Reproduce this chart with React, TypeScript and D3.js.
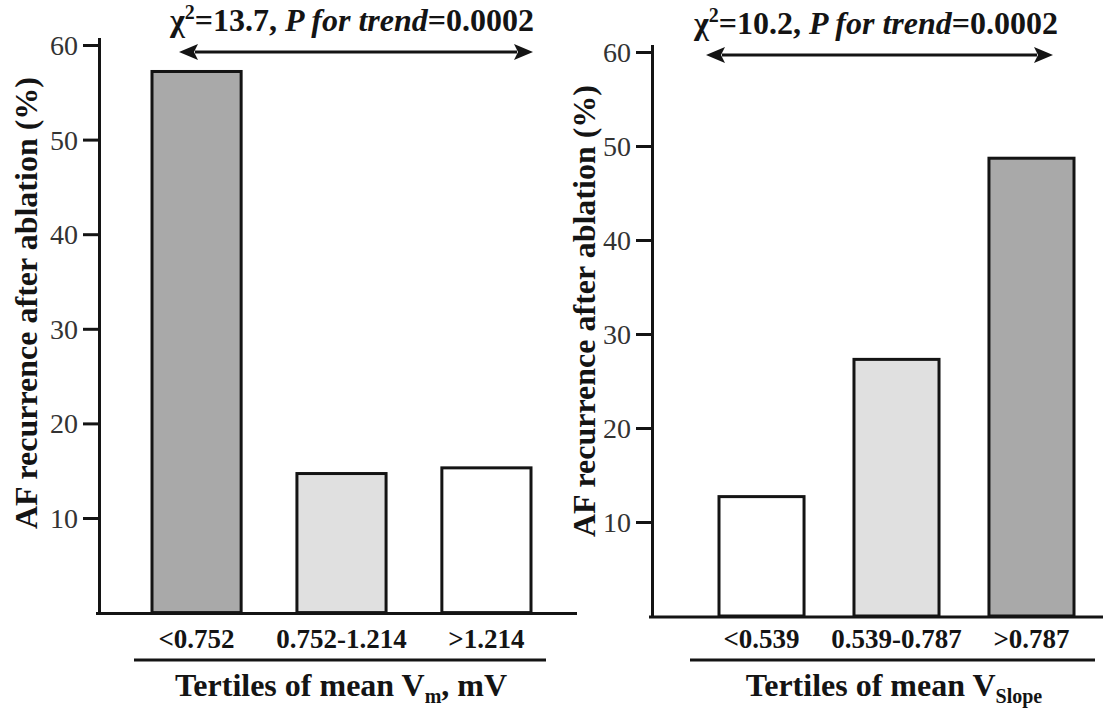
import React, { useEffect, useRef } from "react";
import * as d3 from "d3";

// Tertile categories and AF recurrence rates (%)
const vmCategories = ["<0.752", "0.752-1.214", ">1.214"];
const vmValues = [57.2, 14.7, 15.3];
const vmFills = ["#a9a9a9", "#e0e0e0", "#ffffff"];

const slopeCategories = ["<0.539", "0.539-0.787", ">0.787"];
const slopeValues = [12.7, 27.3, 48.7];
const slopeFills = ["#ffffff", "#e0e0e0", "#a9a9a9"];

const yTicks = [10, 20, 30, 40, 50, 60];
const yLabel = "AF recurrence after ablation (%)";

const chiValues = ["13.7", "10.2"];
const pValues = ["0.0002", "0.0002"];

const SERIF = "'Liberation Serif', 'Times New Roman', Times, serif";
const INK = "#141414";

type Panel = {
  categories: string[];
  values: number[];
  fills: string[];
  chi: string;
  p: string;
  axisX: number;
  y0: number;
  y10: number;
  y60: number;
  barRange: [number, number];
  padInner: number;
  baselineEnd: number;
  yLabelX: number;
  yLabelY: number;
  titleX: number;
  titleY: number;
  arrow: [number, number, number];
  underline: [number, number, number];
  xTitleX: number;
  xTitleY: number;
  xSub: string;
  xTail: string;
};

const panels: Panel[] = [
  {
    categories: vmCategories,
    values: vmValues,
    fills: vmFills,
    chi: chiValues[0],
    p: pValues[0],
    axisX: 99,
    y0: 612.6,
    y10: 518,
    y60: 45,
    barRange: [152, 531],
    padInner: 0.385,
    baselineEnd: 577,
    yLabelX: 37,
    yLabelY: 303,
    titleX: 352,
    titleY: 31,
    arrow: [179, 533, 52],
    underline: [134, 546, 660],
    xTitleX: 341,
    xTitleY: 696,
    xSub: "m",
    xTail: ", mV",
  },
  {
    categories: slopeCategories,
    values: slopeValues,
    fills: slopeFills,
    chi: chiValues[1],
    p: pValues[1],
    axisX: 652,
    y0: 616,
    y10: 522,
    y60: 52,
    barRange: [719, 1074],
    padInner: 0.37,
    baselineEnd: 1103,
    yLabelX: 595,
    yLabelY: 311,
    titleX: 876,
    titleY: 34,
    arrow: [706, 1053, 55],
    underline: [690, 1095, 660],
    xTitleX: 894,
    xTitleY: 696,
    xSub: "Slope",
    xTail: "",
  },
];

function drawPanel(svg: d3.Selection<SVGSVGElement, unknown, null, undefined>, p: Panel) {
  const unit = (p.y10 - p.y60) / 50;
  const y = d3
    .scaleLinear()
    .domain([0, 60.8])
    .range([p.y0, p.y0 - unit * 60.8]);
  const x = d3
    .scaleBand<string>()
    .domain(p.categories)
    .range(p.barRange)
    .paddingInner(p.padInner)
    .paddingOuter(0);

  const g = svg.append("g");

  // bars
  g.selectAll("rect.bar")
    .data(p.values)
    .join("rect")
    .attr("class", "bar")
    .attr("x", (_, i) => x(p.categories[i])!)
    .attr("width", x.bandwidth())
    .attr("y", (d) => y(d))
    .attr("height", (d) => y(0) - y(d))
    .attr("fill", (_, i) => p.fills[i])
    .attr("stroke", INK)
    .attr("stroke-width", 3);

  // y axis
  const axis = d3
    .axisLeft(y)
    .tickValues(yTicks)
    .tickSize(16)
    .tickSizeOuter(0)
    .tickPadding(5)
    .tickFormat((d) => String(d));
  const ag = g.append("g").attr("transform", `translate(${p.axisX},0)`).call(axis);
  ag.select(".domain").attr("stroke", INK).attr("stroke-width", 3);
  ag.selectAll(".tick line").attr("stroke", INK).attr("stroke-width", 3);
  ag.selectAll(".tick text")
    .attr("font-family", SERIF)
    .attr("font-size", 28)
    .attr("fill", "#333333")
    .attr("dy", "0.34em");

  // baseline
  g.append("line")
    .attr("x1", p.axisX - 3)
    .attr("x2", p.baselineEnd)
    .attr("y1", y(0) + 1)
    .attr("y2", y(0) + 1)
    .attr("stroke", INK)
    .attr("stroke-width", 3);

  // category labels
  g.selectAll("text.cat")
    .data(p.categories)
    .join("text")
    .attr("class", "cat")
    .attr("x", (d) => x(d)! + x.bandwidth() / 2)
    .attr("y", 648)
    .attr("text-anchor", "middle")
    .attr("font-family", SERIF)
    .attr("font-weight", "bold")
    .attr("font-size", 27)
    .attr("fill", INK)
    .text((d) => d);

  // y axis title
  g.append("text")
    .attr("transform", `translate(${p.yLabelX},${p.yLabelY}) rotate(-90)`)
    .attr("text-anchor", "middle")
    .attr("font-family", SERIF)
    .attr("font-weight", "bold")
    .attr("font-size", 32)
    .attr("fill", INK)
    .text(yLabel);

  // trend statistic
  const t = g
    .append("text")
    .attr("x", p.titleX)
    .attr("y", p.titleY)
    .attr("text-anchor", "middle")
    .attr("font-family", SERIF)
    .attr("font-weight", "bold")
    .attr("font-size", 32)
    .attr("fill", INK);
  t.append("tspan").text("χ");
  t.append("tspan").attr("font-size", 20).attr("dy", -12).text("2");
  t.append("tspan").attr("dy", 12).text(`=${p.chi}, `);
  t.append("tspan").attr("font-style", "italic").text("P for trend");
  t.append("tspan").text(`=${p.p}`);

  // double-headed arrow
  const [ax1, ax2, ay] = p.arrow;
  const head = 19;
  const half = 8;
  g.append("line")
    .attr("x1", ax1 + head - 3)
    .attr("x2", ax2 - head + 3)
    .attr("y1", ay)
    .attr("y2", ay)
    .attr("stroke", INK)
    .attr("stroke-width", 3);
  g.append("path")
    .attr("d", `M${ax1},${ay} L${ax1 + head},${ay - half} L${ax1 + head - 4},${ay} L${ax1 + head},${ay + half} Z`)
    .attr("fill", INK);
  g.append("path")
    .attr("d", `M${ax2},${ay} L${ax2 - head},${ay - half} L${ax2 - head + 4},${ay} L${ax2 - head},${ay + half} Z`)
    .attr("fill", INK);

  // underline and x title
  const [u1, u2, uy] = p.underline;
  g.append("line")
    .attr("x1", u1)
    .attr("x2", u2)
    .attr("y1", uy)
    .attr("y2", uy)
    .attr("stroke", INK)
    .attr("stroke-width", 3);

  const xt = g
    .append("text")
    .attr("x", p.xTitleX)
    .attr("y", p.xTitleY)
    .attr("text-anchor", "middle")
    .attr("font-family", SERIF)
    .attr("font-weight", "bold")
    .attr("font-size", 32)
    .attr("fill", INK);
  xt.append("tspan").text("Tertiles of mean V");
  xt.append("tspan").attr("font-size", 20).attr("dy", 7).text(p.xSub);
  if (p.xTail) xt.append("tspan").attr("dy", -7).text(p.xTail);
}

export default function App() {
  const ref = useRef<SVGSVGElement>(null);

  useEffect(() => {
    if (!ref.current) return;
    const svg = d3.select(ref.current);
    svg.selectAll("*").remove();
    svg.append("rect").attr("width", 1103).attr("height", 708).attr("fill", "#ffffff");
    panels.forEach((p) => drawPanel(svg, p));
  }, []);

  return (
    <svg
      ref={ref}
      width={1103}
      height={708}
      style={{ position: "absolute", left: 0, top: 0, display: "block" }}
    />
  );
}
